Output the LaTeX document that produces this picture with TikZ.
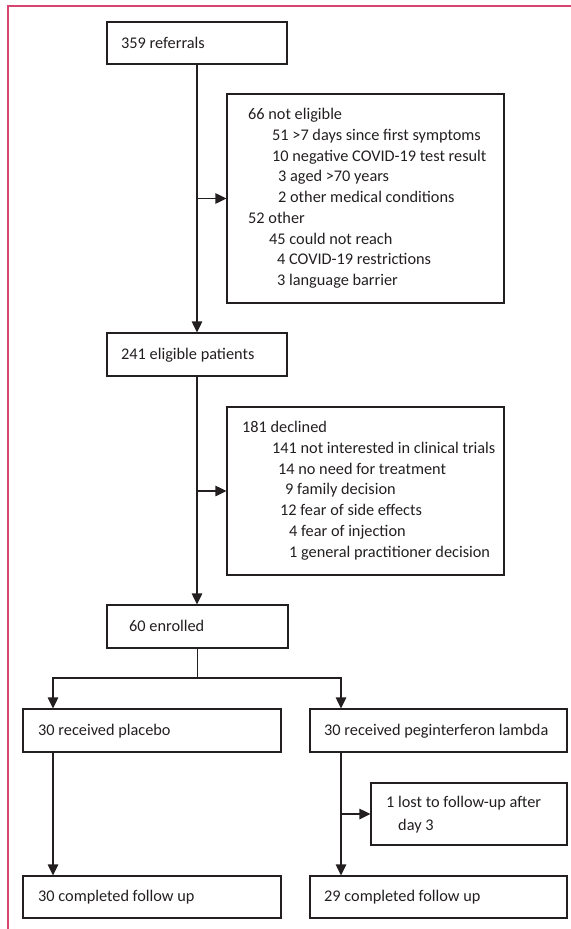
\documentclass[tikz,border=0pt]{standalone}
\usepackage{fontspec}
\setmainfont{Carlito}
\usetikzlibrary{arrows.meta}
\definecolor{frame}{RGB}{214,70,110}
\definecolor{ink}{RGB}{35,31,32}
\tikzset{
  box/.style={draw=ink, line width=1.2bp, rectangle, inner sep=0pt},
  txt/.style={anchor=base west, inner sep=0pt, text=ink, font=\fontsize{16.3bp}{20bp}\selectfont},
  conn/.style={draw=ink, line width=1.2bp},
  arr/.style={conn, -{Triangle[length=11bp,width=10.5bp]}}
}
\newcommand{\boxat}[5]{\node[box, minimum width={(#4-#2)*1bp}, minimum height={(#5-#3)*1bp}] (#1) at ({(#2+#4)/2},{(#3+#5)/2}) {};}
\begin{document}
\begin{tikzpicture}[x=1bp,y=-1bp]
\useasboundingbox (0,0) rectangle (571,929);
\draw[frame, line width=1.6bp] (8,929) -- (8,6) -- (571,6);

% boxes
\boxat{ref}{107}{22}{287}{64}
\boxat{ne}{227}{94}{504}{303}
\boxat{elig}{107}{333}{287}{376}
\boxat{dec}{227}{407}{504}{575}
\boxat{enr}{107}{605}{288}{648}
\boxat{pla}{23}{709}{281}{752}
\boxat{peg}{310}{709}{567}{752}
\boxat{lost}{371}{783}{567}{845}
\boxat{cpla}{23}{876}{281}{918}
\boxat{cpeg}{310}{876}{567}{918}

% texts
\node[txt] (tref) at (121,48) {359 referrals};
\node[txt] (ne0) at (248,119.5) {66 not eligible};
\node[txt] (ne1) at (272,140.25) {51 >7 days since first symptoms};
\node[txt] (ne2) at (272,161) {10 negative COVID-19 test result};
\node[txt] (ne3) at (278,181.75) {3 aged >70 years};
\node[txt] (ne4) at (278,202.5) {2 other medical conditions};
\node[txt] (ne5) at (248,223.25) {52 other};
\node[txt] (ne6) at (269,244) {45 could not reach};
\node[txt] (ne7) at (277,264.75) {4 COVID-19 restrictions};
\node[txt] (ne8) at (277,285.5) {3 language barrier};
\node[txt] (telig) at (121,359) {241 eligible patients};
\node[txt] (d0) at (242,432.5) {181 declined};
\node[txt] (d1) at (272,453.25) {141 not interested in clinical trials};
\node[txt] (d2) at (278,474) {14 no need for treatment};
\node[txt] (d3) at (285,494.75) {9 family decision};
\node[txt] (d4) at (280,515.5) {12 fear of side effects};
\node[txt] (d5) at (289,536.25) {4 fear of injection};
\node[txt] (d6) at (289,557) {1 general practitioner decision};
\node[txt] (tenr) at (129,631) {60 enrolled};
\node[txt] (tpla) at (38,735) {30 received placebo};
\node[txt] (tpeg) at (324,735) {30 received peginterferon lambda};
\node[txt] (tl1) at (386,807.5) {1 lost to follow-up after};
\node[txt] (tl2) at (398,830) {day 3};
\node[txt] (tcpla) at (38,901.5) {30 completed follow up};
\node[txt] (tcpeg) at (324,901.5) {29 completed follow up};

% connectors
\coordinate (b1) at (ref.south |- ne.west);
\coordinate (b2) at (elig.south |- dec.west);
\coordinate (sp) at (enr.south |- 0,678);
\coordinate (spl) at (53,678);
\coordinate (spr) at (341,678);
\coordinate (b3) at (341,814);
\draw[arr] (ref.south) -- (ref.south |- elig.north);
\draw[arr] (b1) -- (ne.west |- b1);
\draw[arr] (elig.south) -- (elig.south |- enr.north);
\draw[arr] (b2) -- (dec.west |- b2);
\draw[conn] (enr.south) -- (sp);
\draw[arr] (sp) -- (spl) -- (spl |- pla.north);
\draw[arr] (sp) -- (spr) -- (spr |- peg.north);
\draw[arr] (spl |- pla.south) -- (spl |- cpla.north);
\draw[arr] (spr |- peg.south) -- (spr |- cpeg.north);
\draw[arr] (b3) -- (lost.west |- b3);
\end{tikzpicture}
\end{document}
